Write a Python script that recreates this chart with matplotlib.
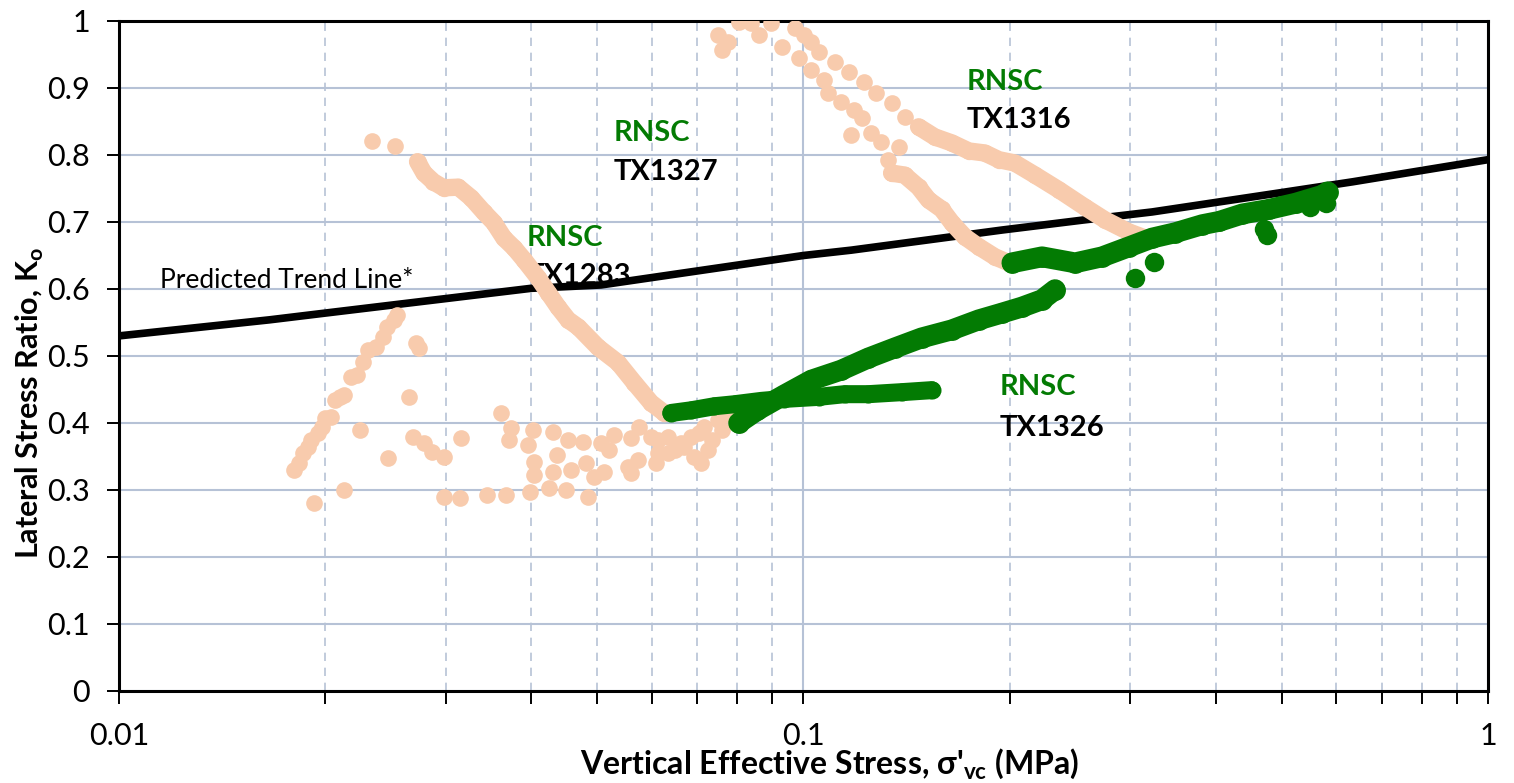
import matplotlib
matplotlib.use("Agg")
import matplotlib.pyplot as plt
from matplotlib.ticker import FixedLocator, NullFormatter

plt.rcParams['font.family'] = ['Lato', 'DejaVu Sans']
plt.rcParams['mathtext.fontset'] = 'custom'
plt.rcParams['mathtext.rm'] = 'Lato'
plt.rcParams['mathtext.bf'] = 'Lato:bold'

PEACH = '#f8cbad'
GREEN = '#037b03'
GRID = '#b6c2d6'

# predicted K0 trend line
trend_x = [0.01, 0.0166, 0.02, 0.040, 0.0506, 0.1, 0.1175, 0.195, 0.2566, 0.3232, 0.5, 0.6345, 1.0]
trend_y = [0.530, 0.554, 0.564, 0.601, 0.606, 0.650, 0.658, 0.688, 0.703, 0.715, 0.744, 0.760, 0.793]

# TX1283 - first stage (sparse points)
tx1283_rise_x = [0.0180, 0.0183, 0.0186, 0.0189, 0.0191, 0.0195, 0.0198, 0.0200, 0.0204, 0.0207, 0.0210,
                 0.0213, 0.0218, 0.0223, 0.0227, 0.0231, 0.0237, 0.0243, 0.0246, 0.0252, 0.0255]
tx1283_rise_y = [0.330, 0.340, 0.355, 0.364, 0.375, 0.385, 0.394, 0.407, 0.409, 0.434, 0.439,
                 0.442, 0.469, 0.472, 0.491, 0.509, 0.513, 0.528, 0.543, 0.554, 0.561]
tx1283_cloud_x = [0.0272, 0.0274, 0.0265, 0.0225, 0.0247, 0.0213, 0.0193, 0.0269, 0.0279, 0.0287, 0.0298,
                  0.0316, 0.0298, 0.0315, 0.0345, 0.0367, 0.0361, 0.0374, 0.0371, 0.0403, 0.0396, 0.0404,
                  0.0404, 0.0399, 0.0431, 0.0436, 0.0431, 0.0425, 0.0450, 0.0453, 0.0476, 0.0458, 0.0481,
                  0.0494, 0.0511, 0.0484, 0.0506, 0.0519, 0.0528, 0.0560, 0.0575, 0.0599, 0.0635, 0.0560,
                  0.0573, 0.0609, 0.0635, 0.0670, 0.0693, 0.0704, 0.0613, 0.0663, 0.0686, 0.0554, 0.0613,
                  0.0648, 0.0726, 0.0709, 0.0734, 0.0759, 0.0716, 0.0751, 0.0777, 0.0806]
tx1283_cloud_y = [0.519, 0.512, 0.439, 0.390, 0.348, 0.300, 0.281, 0.379, 0.370, 0.357, 0.349,
                  0.378, 0.290, 0.288, 0.293, 0.293, 0.415, 0.393, 0.375, 0.390, 0.367, 0.342,
                  0.322, 0.297, 0.387, 0.352, 0.327, 0.303, 0.300, 0.375, 0.372, 0.330, 0.340,
                  0.319, 0.327, 0.290, 0.370, 0.360, 0.382, 0.378, 0.394, 0.379, 0.379, 0.325,
                  0.345, 0.340, 0.355, 0.364, 0.349, 0.385, 0.375, 0.370, 0.379, 0.334, 0.355,
                  0.360, 0.360, 0.340, 0.375, 0.390, 0.394, 0.404, 0.412, 0.419]
# TX1283 - second stage
tx1283_green_x = [0.0804, 0.0856, 0.0938, 0.1027, 0.1136, 0.1244, 0.1359, 0.1488, 0.1647, 0.1804,
                  0.1949, 0.2085, 0.2231, 0.2331]
tx1283_green_y = [0.400, 0.419, 0.442, 0.464, 0.479, 0.497, 0.512, 0.527, 0.539, 0.554,
                  0.564, 0.573, 0.584, 0.599]

# TX1327
tx1327_start_x = [0.0234, 0.0253]
tx1327_start_y = [0.821, 0.813]
tx1327_peach_x = [0.0273, 0.0279, 0.0288, 0.0298, 0.0313, 0.0327, 0.0341, 0.0353, 0.0365, 0.0378, 0.0391,
                  0.0410, 0.0424, 0.0438, 0.0453, 0.0469, 0.0501, 0.0536, 0.0566, 0.0599, 0.0626]
tx1327_peach_y = [0.790, 0.773, 0.760, 0.751, 0.752, 0.736, 0.715, 0.699, 0.676, 0.661, 0.643,
                  0.616, 0.594, 0.573, 0.554, 0.543, 0.513, 0.490, 0.460, 0.430, 0.415]
tx1327_green_x = [0.0641, 0.0686, 0.0741, 0.0793, 0.0868, 0.0938, 0.1052, 0.1148, 0.1244, 0.1391, 0.1539]
tx1327_green_y = [0.415, 0.419, 0.425, 0.428, 0.433, 0.436, 0.439, 0.443, 0.443, 0.446, 0.449]

# TX1316 - upper branch
tx1316_top_x = [0.0751, 0.0759, 0.0777, 0.0804, 0.0839, 0.0862, 0.0898, 0.0971, 0.1003, 0.1027,
                0.1055, 0.1110, 0.1167, 0.1224, 0.1278, 0.1345, 0.1405, 0.1473]
tx1316_top_y = [0.979, 0.957, 0.969, 0.998, 0.997, 0.979, 0.997, 0.990, 0.979, 0.969,
                0.954, 0.939, 0.924, 0.909, 0.893, 0.878, 0.857, 0.842]
tx1316_peach_x = [0.1473, 0.1555, 0.1647, 0.1744, 0.1840, 0.1929, 0.2036, 0.2179, 0.2361, 0.2579,
                  0.2759, 0.2990, 0.3157]
tx1316_peach_y = [0.842, 0.827, 0.818, 0.806, 0.803, 0.793, 0.788, 0.770, 0.748, 0.722,
                  0.703, 0.685, 0.676]

# TX1326 - lower branch
tx1326_top_x = [0.0929, 0.0984, 0.1027, 0.1073, 0.1087, 0.1136, 0.1187, 0.1216, 0.1175, 0.1257,
                0.1300, 0.1377, 0.1331, 0.1345]
tx1326_top_y = [0.961, 0.945, 0.927, 0.912, 0.893, 0.879, 0.867, 0.855, 0.830, 0.833,
                0.819, 0.812, 0.793, 0.773]
tx1326_peach_x = [0.1345, 0.1405, 0.1473, 0.1523, 0.1592, 0.1647, 0.1720, 0.1804, 0.1904, 0.1996]
tx1326_peach_y = [0.773, 0.770, 0.752, 0.733, 0.719, 0.699, 0.678, 0.663, 0.648, 0.639]

# second stage on the right (both tests)
right_green_x = [0.2016, 0.2231, 0.2493, 0.2731, 0.2990, 0.3232, 0.3493, 0.3826, 0.4052, 0.4378,
                 0.4795, 0.5235, 0.5734, 0.5831]
right_green_y = [0.639, 0.648, 0.639, 0.648, 0.663, 0.676, 0.684, 0.696, 0.701, 0.712,
                 0.719, 0.728, 0.740, 0.745]
right_extra_x = [0.3052, 0.3254, 0.4700, 0.4750, 0.5800, 0.5500]
right_extra_y = [0.616, 0.640, 0.690, 0.680, 0.728, 0.722]

fig = plt.figure(figsize=(15.14, 7.83), dpi=100)
ax = fig.add_axes([0.0786, 0.1175, 0.9042, 0.8557])
ax.set_xscale('log')


def dots(x, y, c, ms=12, z=3):
    ax.plot(x, y, ls='none', marker='o', ms=ms, color=c, mec='none', zorder=z)


def band(x, y, c, lw=12.5, z=3):
    ax.plot(x, y, color=c, lw=lw, solid_capstyle='round', solid_joinstyle='round',
            marker='o', ms=lw, mec='none', zorder=z)


ax.plot(trend_x, trend_y, color='black', lw=5.5, zorder=2)

dots(tx1283_rise_x, tx1283_rise_y, PEACH)
dots(tx1283_cloud_x, tx1283_cloud_y, PEACH)
dots(tx1327_start_x, tx1327_start_y, PEACH)
band(tx1327_peach_x, tx1327_peach_y, PEACH)
dots(tx1316_top_x, tx1316_top_y, PEACH)
band(tx1316_peach_x, tx1316_peach_y, PEACH)
dots(tx1326_top_x, tx1326_top_y, PEACH)
band(tx1326_peach_x, tx1326_peach_y, PEACH)

band(tx1327_green_x, tx1327_green_y, GREEN, lw=13, z=4)
band(tx1283_green_x, tx1283_green_y, GREEN, lw=15, z=4)
band(right_green_x, right_green_y, GREEN, lw=15, z=4)
dots(right_extra_x, right_extra_y, GREEN, ms=14, z=4)

# specimen labels
labels = [(0.0528, 0.833, 0.775, 'TX1327'),
          (0.1732, 0.909, 0.852, 'TX1316'),
          (0.0394, 0.676, 0.619, 'TX1283'),
          (0.1936, 0.454, 0.393, 'TX1326')]
for lx, ly1, ly2, name in labels:
    ax.text(lx, ly1, 'RNSC', color=GREEN, fontsize=21, fontweight='bold', va='center', zorder=1)
    ax.text(lx, ly2, name, color='black', fontsize=21, fontweight='bold', va='center', zorder=1)
ax.text(0.01148, 0.613, 'Predicted Trend Line*', fontsize=19, va='center', zorder=1)

ax.set_xlim(0.01, 1)
ax.set_ylim(0, 1)
ax.xaxis.set_major_locator(FixedLocator([0.01, 0.1, 1]))
ax.set_xticklabels(['0.01', '0.1', '1'])
ax.xaxis.set_minor_locator(FixedLocator([m * d for d in (0.01, 0.1) for m in range(2, 10)]))
ax.xaxis.set_minor_formatter(NullFormatter())
yt = [i / 10 for i in range(11)]
ax.set_yticks(yt)
ax.set_yticklabels(['0'] + ['%.1f' % v for v in yt[1:-1]] + ['1'])

ax.grid(True, which='major', axis='y', color=GRID, lw=1.5)
ax.grid(True, which='major', axis='x', color=GRID, lw=1.5)
ax.grid(True, which='minor', axis='x', color=GRID, lw=1.2, ls=(0, (5, 4)))
ax.set_axisbelow(True)

for s in ax.spines.values():
    s.set_linewidth(2.2)
ax.tick_params(axis='both', which='both', direction='out', width=1.4, length=9, labelsize=22)
ax.tick_params(axis='x', which='both', pad=13)
ax.tick_params(axis='y', pad=12)

ax.set_xlabel("Vertical Effective Stress, σ'$_{\\mathbf{vc}}$ (MPa)", fontsize=23, fontweight='bold')
ax.xaxis.set_label_coords(0.519, -0.083)
ax.set_ylabel('Lateral Stress Ratio, K$_{\\mathbf{o}}$', fontsize=22, fontweight='bold')
ax.yaxis.set_label_coords(-0.053, 0.43)

fig.savefig('out.png', dpi=100)
